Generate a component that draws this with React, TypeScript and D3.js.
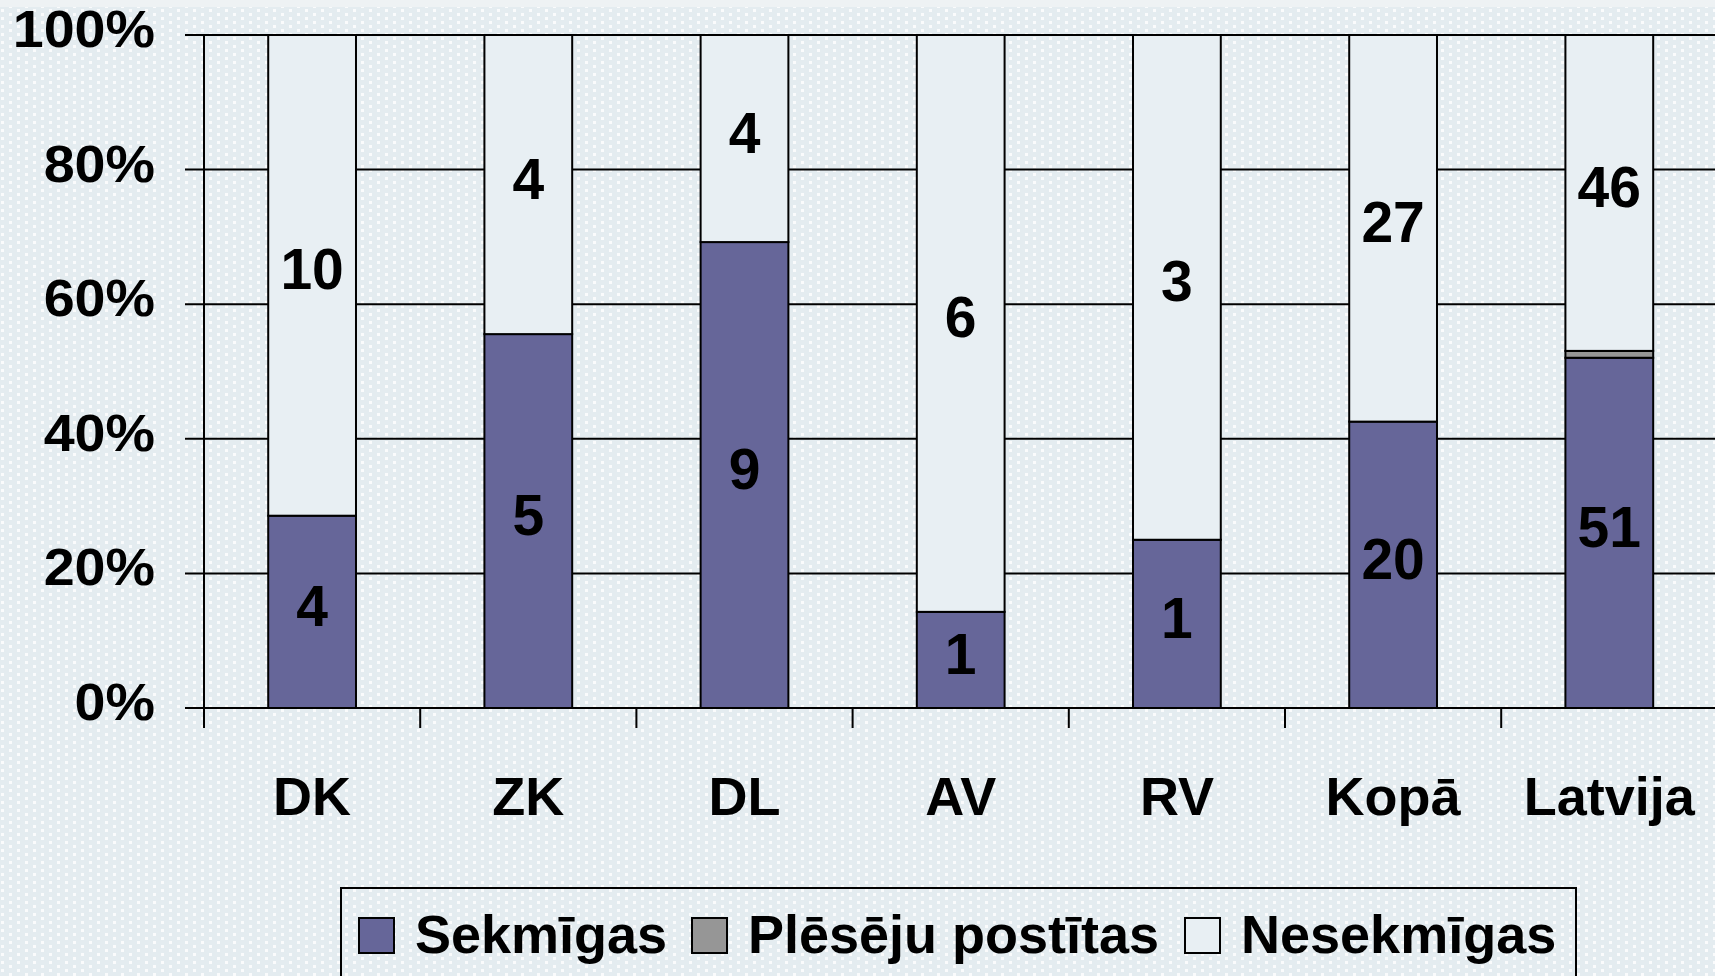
import React, { useEffect } from "react";
import * as d3 from "d3";

const categories = ["DK", "ZK", "DL", "AV", "RV", "Kopā", "Latvija"];
const sekmigas = [4, 5, 9, 1, 1, 20, 51];
const plesejuPostitas = [0, 0, 0, 0, 0, 0, 1];
const nesekmigas = [10, 4, 4, 6, 3, 27, 46];
const seriesNames = ["Sekmīgas", "Plēsēju postītas", "Nesekmīgas"];
const seriesColors = ["#666699", "#969696", "#e8eff3"];
const yTicks = [0, 0.2, 0.4, 0.6, 0.8, 1];

const W = 1715;
const H = 976;
const X0 = 204;
const STEP = 216.2;
const Y0 = 708;
const Y1 = 35;

export default function App() {
  useEffect(() => {
    document.body.style.margin = "0";
  }, []);

  const rows = categories.map((c, i) => ({
    cat: c,
    s0: sekmigas[i],
    s1: plesejuPostitas[i],
    s2: nesekmigas[i],
  }));
  const keys = ["s0", "s1", "s2"];
  const stacked = d3.stack<any>().keys(keys).offset(d3.stackOffsetExpand)(rows);

  const x = d3
    .scaleBand<string>()
    .domain(categories)
    .range([X0, X0 + STEP * categories.length])
    .paddingInner(0.594)
    .paddingOuter(0.297);
  const y = d3.scaleLinear().domain([0, 1]).range([Y0, Y1]);
  const fmt = d3.format(".0%");
  const edges = d3.range(categories.length + 1).map((i) => X0 + i * STEP);

  const legendX = [359, 692, 1185];
  const font = "'Liberation Sans', Arial, sans-serif";

  return (
    <div style={{ position: "absolute", left: 0, top: 0 }}>
      <svg width={W} height={H} style={{ display: "block" }} fontFamily={font}>
        <defs>
          <pattern id="dots" width="16" height="16" patternUnits="userSpaceOnUse">
            <rect width="16" height="16" fill="#e4ecf0" />
            <rect x="1" y="1" width="3" height="3" fill="#ffffff" opacity="0.8" />
            <rect x="9" y="5" width="3" height="3" fill="#ffffff" opacity="0.8" />
            <rect x="1" y="9" width="3" height="3" fill="#ffffff" opacity="0.8" />
            <rect x="9" y="13" width="3" height="3" fill="#ffffff" opacity="0.8" />
          </pattern>
        </defs>
        <rect width={W} height={H} fill="url(#dots)" />
        <rect width={W} height={7} fill="#eef2f4" />

        {/* gridlines */}
        {yTicks.map((t) => (
          <line key={t} x1={185} x2={W} y1={y(t)} y2={y(t)} stroke="#000" strokeWidth={2} />
        ))}

        {/* bars */}
        {stacked.map((layer, li) =>
          layer.map((d, i) => {
            const h = y(d[0]) - y(d[1]);
            if (h <= 0) return null;
            return (
              <rect
                key={li + "-" + i}
                x={x(categories[i])}
                y={y(d[1])}
                width={x.bandwidth()}
                height={h}
                fill={seriesColors[li]}
                stroke="#000"
                strokeWidth={2}
              />
            );
          })
        )}

        {/* data labels */}
        {stacked.map((layer, li) =>
          li === 1
            ? null
            : layer.map((d, i) => {
                const v = [sekmigas, plesejuPostitas, nesekmigas][li][i];
                const cy = (y(d[0]) + y(d[1])) / 2;
                return (
                  <text
                    key={"l" + li + "-" + i}
                    x={(x(categories[i]) as number) + x.bandwidth() / 2}
                    y={cy + 14}
                    fontSize={57}
                    fontWeight="bold"
                    textAnchor="middle"
                    fill="#000"
                  >
                    {v}
                  </text>
                );
              })
        )}

        {/* axes */}
        <line x1={X0} x2={X0} y1={Y1} y2={Y0 + 20} stroke="#000" strokeWidth={2} />
        <line x1={X0} x2={W} y1={Y0} y2={Y0} stroke="#000" strokeWidth={2} />
        {edges.map((e, i) => (
          <line key={"t" + i} x1={e} x2={e} y1={Y0} y2={Y0 + 20} stroke="#000" strokeWidth={2} />
        ))}

        {yTicks.map((t) => (
          <text
            key={"y" + t}
            transform={`translate(155,${y(t) + 12}) scale(1.07,1)`}
            fontSize={52}
            fontWeight="bold"
            textAnchor="end"
            fill="#000"
          >
            {fmt(t)}
          </text>
        ))}

        {categories.map((c) => (
          <text
            key={"c" + c}
            x={(x(c) as number) + x.bandwidth() / 2}
            y={815}
            fontSize={54}
            fontWeight="bold"
            textAnchor="middle"
            fill="#000"
          >
            {c}
          </text>
        ))}

        {/* legend */}
        <rect x={341} y={888} width={1235} height={120} fill="none" stroke="#000" strokeWidth={2} />
        {seriesNames.map((n, i) => (
          <g key={"lg" + i}>
            <rect x={legendX[i]} y={918} width={35} height={35} fill={seriesColors[i]} stroke="#000" strokeWidth={2} />
            <text x={legendX[i] + 56} y={953} fontSize={54} fontWeight="bold" fill="#000">
              {n}
            </text>
          </g>
        ))}
      </svg>
    </div>
  );
}
